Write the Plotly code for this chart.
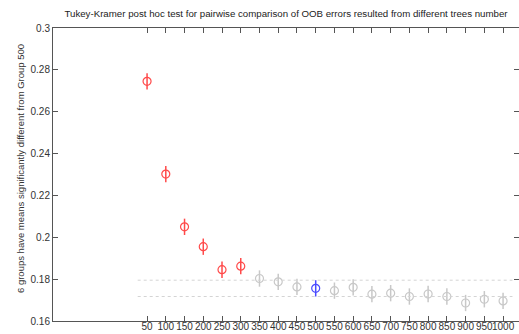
import plotly.graph_objects as go

groups = ["50", "100", "150", "200", "250", "300", "350", "400", "450", "500",
          "550", "600", "650", "700", "750", "800", "850", "900", "950", "1000"]
means = [0.2745, 0.2302, 0.2050, 0.1955, 0.1845, 0.1862, 0.1803, 0.1787, 0.1763, 0.1756,
         0.1745, 0.1761, 0.1728, 0.1733, 0.1717, 0.1729, 0.1717, 0.1686, 0.1704, 0.1696]
ci_half = [0.0039] * 20
status = ["sig"] * 6 + ["ns"] * 3 + ["ref"] + ["ns"] * 10
ref_group = "500"
title_text = "Tukey-Kramer post hoc test for pairwise comparison of OOB errors resulted from different trees number"
ylabel_text = "6 groups have means significantly different from Group 500"
yticks = [0.16, 0.18, 0.2, 0.22, 0.24, 0.26, 0.28, 0.3]
yticklabels = ["0.16", "0.18", "0.2", "0.22", "0.24", "0.26", "0.28", "0.3"]

colors = {"sig": "#ff4a4a", "ns": "#c8c8c8", "ref": "#4a4aff"}
xpos = list(range(1, len(groups) + 1))

fig = go.Figure()
for key in ["ns", "sig", "ref"]:
    xs = [x for x, s in zip(xpos, status) if s == key]
    ys = [m for m, s in zip(means, status) if s == key]
    es = [e for e, s in zip(ci_half, status) if s == key]
    fig.add_trace(go.Scatter(
        x=xs, y=ys, mode="markers",
        marker=dict(symbol="circle-open", size=8, color=colors[key], line=dict(width=1.2, color=colors[key])),
        error_y=dict(type="data", array=es, visible=True, width=0, thickness=1.5, color=colors[key]),
        showlegend=False, hoverinfo="skip"))

ri = groups.index(ref_group)
lo = means[ri] - ci_half[ri]
hi = means[ri] + ci_half[ri]
for yv in [lo, hi]:
    fig.add_trace(go.Scatter(x=[0.5, len(groups) + 0.5], y=[yv, yv], mode="lines",
                             line=dict(color="#d4d4d4", width=1, dash="dot"),
                             showlegend=False, hoverinfo="skip"))

# invisible trace for right-side tick axis
fig.add_trace(go.Scatter(x=[xpos[0]], y=[means[0]], yaxis="y2", mode="markers",
                         marker=dict(opacity=0), showlegend=False, hoverinfo="skip"))

font = "Liberation Sans, Arial, sans-serif"
fig.update_layout(
    width=519, height=334,
    margin=dict(l=53, r=0, t=28, b=13),
    paper_bgcolor="white", plot_bgcolor="white",
    font=dict(family=font, size=10, color="#333333"),
    title=dict(text=title_text, x=0.5, xref="paper", xanchor="center", y=1 - 14 / 334, yanchor="middle",
               font=dict(size=9.7, color="#222222", family=font)),
    xaxis=dict(range=[-4.02, 20.85], tickmode="array", tickvals=xpos, ticktext=groups,
               showline=True, linecolor="#555555", linewidth=1, mirror="ticks",
               ticks="inside", ticklen=5, tickcolor="#555555", showgrid=False, zeroline=False,
               tickangle=0, automargin=False, ticklabelstandoff=-4,
               tickfont=dict(size=10, color="#333333")),
    yaxis=dict(range=[0.16, 0.3], tickmode="array", tickvals=yticks, ticktext=yticklabels,
               showline=True, linecolor="#555555", linewidth=1,
               ticks="inside", ticklen=5, tickcolor="#555555", showgrid=False, zeroline=False,
               automargin=False,
               tickfont=dict(size=10, color="#333333")),
    yaxis2=dict(range=[0.16, 0.3], overlaying="y", side="right", tickmode="array", tickvals=yticks,
                showticklabels=False, showline=False, ticks="inside", ticklen=5,
                tickcolor="#555555", showgrid=False, zeroline=False, automargin=False),
    annotations=[dict(text=ylabel_text, xref="paper", yref="paper", x=20 / 519, y=(334 - 169) / 334,
                      xanchor="center", yanchor="middle", showarrow=False, textangle=-90,
                      font=dict(size=9.5, color="#333333", family=font))],
)
fig.layout.annotations[0].update(xref="paper", yref="paper")
# convert figure-pixel placement to paper fraction of the plot area
fig.layout.annotations[0].x = (20 - 53) / (519 - 53)
fig.layout.annotations[0].y = (321 - 169) / (321 - 28)

fig.write_html("out.html", config={"displayModeBar": False},
               post_script="document.body.style.margin='0';document.body.style.overflow='hidden';")
